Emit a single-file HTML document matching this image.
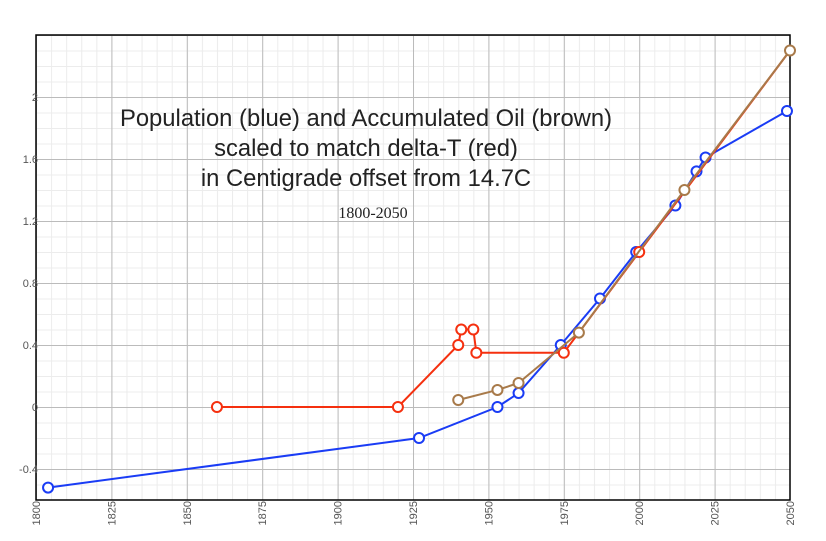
<!DOCTYPE html>
<html><head><style>body{margin:0;background:#fff}</style></head><body>
<svg width="826" height="536" xmlns="http://www.w3.org/2000/svg" font-family="Liberation Sans, sans-serif">
<defs>
<pattern id="mn" x="36" y="407" width="15.08" height="15.5" patternUnits="userSpaceOnUse">
<path d="M0.5 0V15.5M0 0.5H15.08" stroke="#ececec" stroke-width="1" fill="none"/>
</pattern>
<pattern id="mj" x="36" y="407" width="75.4" height="62" patternUnits="userSpaceOnUse">
<path d="M0.5 0V62M0 0.5H75.4" stroke="#bbb" stroke-width="1" fill="none"/>
</pattern>
</defs>
<rect x="36" y="35" width="754" height="465" fill="url(#mn)"/>
<rect x="36" y="35" width="754" height="465" fill="url(#mj)"/>
<rect x="36" y="35" width="754" height="465" fill="none" stroke="#000" stroke-width="1.5"/>
<g fill="none" stroke-width="2">
<polyline stroke="#1a3cf5" points="48.06,487.6 419.03,438 497.45,407 518.56,393.05 560.78,345 599.99,298.5 636.18,252 675.39,205.5 696.5,171.4 705.55,157.45 786.98,111"/>
<g stroke="#1a3cf5" fill="#fff">
<circle cx="48.06" cy="487.6" r="5"/><circle cx="419.03" cy="438" r="5"/><circle cx="497.45" cy="407" r="5"/><circle cx="518.56" cy="393.05" r="5"/><circle cx="560.78" cy="345" r="5"/><circle cx="599.99" cy="298.5" r="5"/><circle cx="636.18" cy="252" r="5"/><circle cx="675.39" cy="205.5" r="5"/><circle cx="696.5" cy="171.4" r="5"/><circle cx="705.55" cy="157.45" r="5"/><circle cx="786.98" cy="111" r="5"/>
</g>
<polyline stroke="#f5300f" points="216.96,407 397.92,407 458.24,345 461.26,329.5 473.32,329.5 476.34,352.75 563.8,352.75 639.2,252 790,50.5"/>
<g stroke="#f5300f" fill="#fff">
<circle cx="216.96" cy="407" r="5"/><circle cx="397.92" cy="407" r="5"/><circle cx="458.24" cy="345" r="5"/><circle cx="461.26" cy="329.5" r="5"/><circle cx="473.32" cy="329.5" r="5"/><circle cx="476.34" cy="352.75" r="5"/><circle cx="563.8" cy="352.75" r="5"/><circle cx="639.2" cy="252" r="5"/>
</g>
<polyline stroke="#a87a4a" points="458.24,400 497.45,389.95 518.56,383 578.88,332.6 684.44,190 790,50.5"/>
<g stroke="#a87a4a" fill="#fff">
<circle cx="458.24" cy="400" r="5"/><circle cx="497.45" cy="389.95" r="5"/><circle cx="518.56" cy="383" r="5"/><circle cx="578.88" cy="332.6" r="5"/><circle cx="684.44" cy="190" r="5"/><circle cx="790" cy="50.5" r="5"/>
</g>
</g>
<g font-size="11" fill="#555" text-anchor="end">
<text x="38" y="473">-0.4</text><text x="38" y="411">0</text><text x="38" y="349">0.4</text>
<text x="38" y="287">0.8</text><text x="38" y="225">1.2</text><text x="38" y="163">1.6</text><text x="38" y="101">2</text>
<text transform="translate(40,501) rotate(-90)">1800</text>
<text transform="translate(115.4,501) rotate(-90)">1825</text>
<text transform="translate(190.8,501) rotate(-90)">1850</text>
<text transform="translate(266.2,501) rotate(-90)">1875</text>
<text transform="translate(341.6,501) rotate(-90)">1900</text>
<text transform="translate(417,501) rotate(-90)">1925</text>
<text transform="translate(492.4,501) rotate(-90)">1950</text>
<text transform="translate(567.8,501) rotate(-90)">1975</text>
<text transform="translate(643.2,501) rotate(-90)">2000</text>
<text transform="translate(718.6,501) rotate(-90)">2025</text>
<text transform="translate(794,501) rotate(-90)">2050</text>
</g>
<g text-anchor="middle" font-size="23.8" fill="#222">
<text x="366" y="126">Population (blue) and Accumulated Oil (brown)</text>
<text x="366" y="156">scaled to match delta-T (red)</text>
<text x="366" y="186">in Centigrade offset from 14.7C</text>
<text x="373" y="218" font-size="16" font-family="Liberation Serif, serif">1800-2050</text>
</g>
</svg>
</body></html>
